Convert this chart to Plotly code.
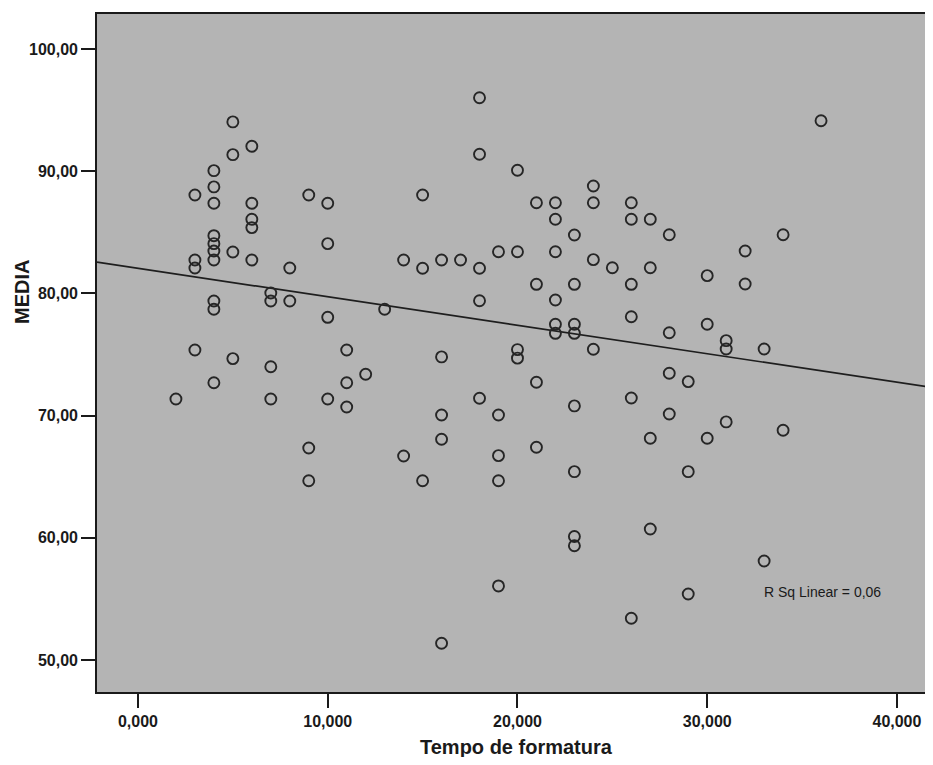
import plotly.graph_objects as go

# Tempo de formatura (years) -> MEDIA values
tempo = (
    [2] + [3]*4 + [4]*10 + [5]*4 + [6]*5 + [7]*4 + [8]*2 + [9]*3 + [10]*4 + [11]*3
    + [12] + [13] + [14]*2 + [15]*3 + [16]*5 + [17] + [18]*5 + [19]*5 + [20]*4
    + [21]*4 + [22]*6 + [23]*8 + [24]*4 + [25] + [26]*6 + [27]*4 + [28]*4 + [29]*3
    + [30]*3 + [31]*3 + [32]*2 + [33]*2 + [34]*2 + [36]
)
media = [
    71.36,
    88.05, 82.73, 82.08, 75.37,
    90.04, 88.71, 87.37, 84.72, 84.07, 83.47, 82.73, 79.38, 78.70, 72.69,
    94.03, 91.35, 83.39, 74.66,
    92.04, 87.37, 86.06, 85.38, 82.73,
    80.03, 79.38, 74.00, 71.36,
    82.08, 79.38,
    88.05, 67.35, 64.67,
    87.37, 84.07, 78.04, 71.36,
    75.37, 72.69, 70.70,
    73.38,
    78.70,
    82.73, 66.69,
    88.05, 82.05, 64.67,
    82.73, 74.80, 70.05, 68.06, 51.37,
    82.73,
    96.01, 91.38, 82.05, 79.40, 71.42,
    83.41, 70.05, 66.72, 64.67, 56.06,
    90.07, 83.41, 75.40, 74.70,
    87.42, 80.74, 72.73, 67.41,
    87.42, 86.06, 83.41, 79.46, 77.47, 76.73,
    84.78, 80.74, 77.47, 76.73, 70.79, 65.41, 60.10, 59.35,
    88.79, 87.42, 82.76, 75.43,
    82.10,
    87.42, 86.06, 80.74, 78.09, 71.44, 53.41,
    86.06, 82.10, 68.14, 60.72,
    84.80, 76.78, 73.46, 70.13,
    72.78, 65.41, 55.40,
    81.45, 77.47, 68.14,
    76.13, 75.45, 69.48,
    83.47, 80.77,
    75.45, 58.10,
    84.80, 68.80,
    94.13,
]

# Linear fit shown on the chart
reg_intercept = 82.05
reg_slope = -0.233
r_sq_text = "R Sq Linear = 0,06"

x_ticks = [0, 10, 20, 30, 40]
x_tick_labels = ["0,000", "10,000", "20,000", "30,000", "40,000"]
y_ticks = [50, 60, 70, 80, 90, 100]
y_tick_labels = ["50,00", "60,00", "70,00", "80,00", "90,00", "100,00"]

x_range = [-2.16, 41.9]
y_range = [47.38, 102.86]

fig = go.Figure()
fig.add_trace(go.Scatter(
    x=[x_range[0], x_range[1]],
    y=[reg_intercept + reg_slope * x_range[0], reg_intercept + reg_slope * x_range[1]],
    mode="lines",
    line=dict(color="#1e1e1e", width=1.7),
    hoverinfo="skip",
    showlegend=False,
))
fig.add_trace(go.Scatter(
    x=tempo, y=media, mode="markers",
    marker=dict(symbol="circle-open", size=11, color="#262626", line=dict(width=1.9, color="#262626")),
    showlegend=False,
))

fig.add_annotation(x=32.9, y=55.6, xref="x", yref="y", text=r_sq_text, showarrow=False,
                   xanchor="left", yanchor="middle",
                   font=dict(family="Liberation Sans", size=14, color="#1a1a1a"))
fig.add_annotation(x=19.97, y=0, xref="x", yref="paper", text="<b>Tempo de formatura</b>",
                   showarrow=False, xanchor="center", yanchor="middle", yshift=-55,
                   font=dict(family="Liberation Sans", size=20, color="#1a1a1a"))
fig.add_annotation(x=0, y=0.5, xref="paper", yref="paper", text="<b>MEDIA</b>", textangle=-90,
                   showarrow=False, xanchor="center", yanchor="middle", xshift=-75, yshift=61,
                   font=dict(family="Liberation Sans", size=20, color="#1a1a1a"))

axis_font = dict(family="Liberation Sans", size=16, color="#1a1a1a")
# page body adds an 8px margin, so the figure is placed 8px in and margins shifted
fig.update_layout(
    width=925, height=749,
    margin=dict(l=89, r=0, t=6, b=65, autoexpand=False),
    paper_bgcolor="white",
    plot_bgcolor="#b4b4b4",
    xaxis=dict(range=x_range, tickvals=x_ticks, ticktext=["<b>%s</b>" % t for t in x_tick_labels],
               showgrid=False, zeroline=False, showline=True, linecolor="#1a1a1a", linewidth=1.6,
               mirror=True, ticks="outside", ticklen=14, tickwidth=1.6, tickcolor="#1a1a1a",
               tickfont=axis_font, automargin=False),
    yaxis=dict(range=y_range, tickvals=y_ticks, ticktext=["<b>%s</b>" % t for t in y_tick_labels],
               showgrid=False, zeroline=False, showline=True, linecolor="#1a1a1a", linewidth=1.6,
               ticks="outside", ticklen=14, tickwidth=1.6, tickcolor="#1a1a1a",
               tickfont=axis_font, automargin=False),
)

fig.write_html("out.html")
